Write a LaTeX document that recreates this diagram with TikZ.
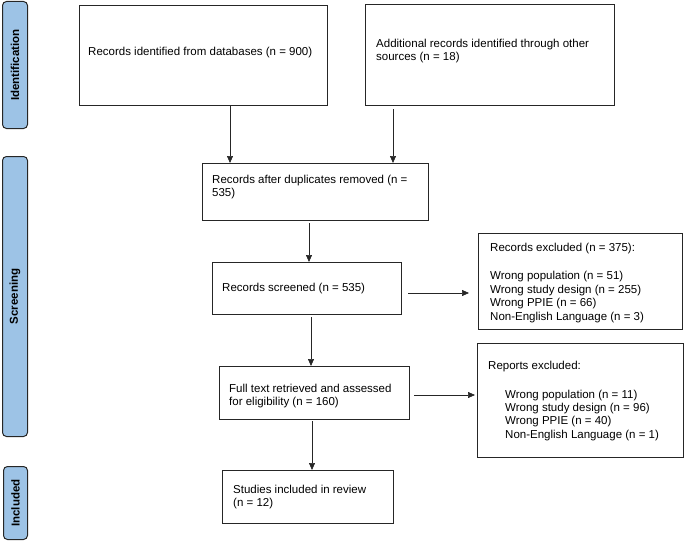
\documentclass[tikz,border=0pt]{standalone}
\usepackage{fontspec}
\setmainfont{Liberation Sans}
\usepackage{tikz}
\usetikzlibrary{arrows.meta}

\definecolor{barblue}{RGB}{157,195,230}

\tikzset{
  stagebar/.style={draw=black!85, line width=1pt, fill=barblue, rounded corners=4pt, anchor=north west, inner sep=0pt},
  stagetext/.style={rotate=90, font=\fontsize{11.5}{13}\selectfont\bfseries},
  flowbox/.style={draw=black!85, line width=1.1pt, anchor=north west, inner sep=0pt},
  boxtext/.style={inner sep=0pt, align=left, font=\fontsize{11.5}{13.4}\selectfont},
  flowarrow/.style={-{Triangle[length=7pt,width=6pt]}, line width=0.7pt, black!85},
}

\begin{document}
\begin{tikzpicture}[x=1pt, y=-1pt]
  \useasboundingbox (0,0) rectangle (685,543);

  % stages
  \node[stagebar, minimum width=25pt, minimum height=127pt] (idbar) at (2,1) {};
  \node[stagetext] (idlabel) at (idbar.center) {Identification};
  \node[stagebar, minimum width=25pt, minimum height=280pt] (scrbar) at (2,156) {};
  \node[stagetext] (scrlabel) at (scrbar.center) {Screening};
  \node[stagebar, minimum width=24pt, minimum height=73pt] (incbar) at (3,466) {};
  \node[stagetext] (inclabel) at (incbar.center) {Included};

  % boxes
  \node[flowbox, minimum width=248pt, minimum height=100pt] (dbbox) at (79,5) {};
  \node[boxtext, anchor=west] (dbtext) at (88,53) {Records identified from databases (n = 900)};
  \node[flowbox, minimum width=249pt, minimum height=101pt] (addbox) at (365,4) {};
  \node[boxtext, anchor=north west] (addtext) at (376,38.5) {Additional records identified through other\\sources (n = 18)};
  \node[flowbox, minimum width=226pt, minimum height=57pt] (dupbox) at (202,163) {};
  \node[boxtext, anchor=north west] (duptext) at (212,174.5) {Records after duplicates removed (n =\\535)};
  \node[flowbox, minimum width=189pt, minimum height=52pt] (scrbox) at (212,262) {};
  \node[boxtext, anchor=west] (scrtext) at (222,289) {Records screened (n = 535)};
  \node[flowbox, minimum width=204pt, minimum height=96pt] (exclbox) at (478,233) {};
  \node[boxtext, anchor=north west] (excltext) at (490,243) {Records excluded (n = 375):\\[15pt]
    Wrong population (n = 51)\\Wrong study design (n = 255)\\Wrong PPIE (n = 66)\\Non-English Language (n = 3)};
  \node[flowbox, minimum width=190pt, minimum height=53pt] (fullbox) at (219,366) {};
  \node[boxtext, anchor=north west] (fulltext) at (229,383.5) {Full text retrieved and assessed\\for eligibility (n = 160)};
  \node[flowbox, minimum width=206pt, minimum height=114pt] (repbox) at (477,343) {};
  \node[boxtext, anchor=north west] (reptext) at (488,360.5) {Reports excluded:\\[15.6pt]
    \hspace*{17pt}Wrong population (n = 11)\\\hspace*{17pt}Wrong study design (n = 96)\\
    \hspace*{17pt}Wrong PPIE (n = 40)\\\hspace*{17pt}Non-English Language (n = 1)};
  \node[flowbox, minimum width=171pt, minimum height=53pt] (studbox) at (222,470) {};
  \node[boxtext, anchor=north west] (studtext) at (233,484.5) {Studies included in review\\(n = 12)};

  % arrows
  \coordinate (dbx) at (230,0);
  \coordinate (addx) at (393,0);
  \coordinate (dupx) at (309,0);
  \coordinate (scrx) at (311,0);
  \coordinate (fullx) at (312,0);
  \draw[flowarrow] (dbbox.south -| dbx) -- (dupbox.north -| dbx);
  \draw[flowarrow, shorten <=3pt] (addbox.south -| addx) -- (dupbox.north -| addx);
  \draw[flowarrow, shorten <=2pt] (dupbox.south -| dupx) -- (scrbox.north -| dupx);
  \draw[flowarrow, shorten <=2pt] (scrbox.south -| scrx) -- (fullbox.north -| scrx);
  \draw[flowarrow, shorten <=1pt] (fullbox.south -| fullx) -- (studbox.north -| fullx);
  \draw[flowarrow, shorten <=6pt, shorten >=9pt] (scrbox.east |- 0,293) -- (exclbox.west |- 0,293);
  \draw[flowarrow, shorten <=4pt, shorten >=2pt] (fullbox.east |- 0,395) -- (repbox.west |- 0,395);
\end{tikzpicture}
\end{document}
